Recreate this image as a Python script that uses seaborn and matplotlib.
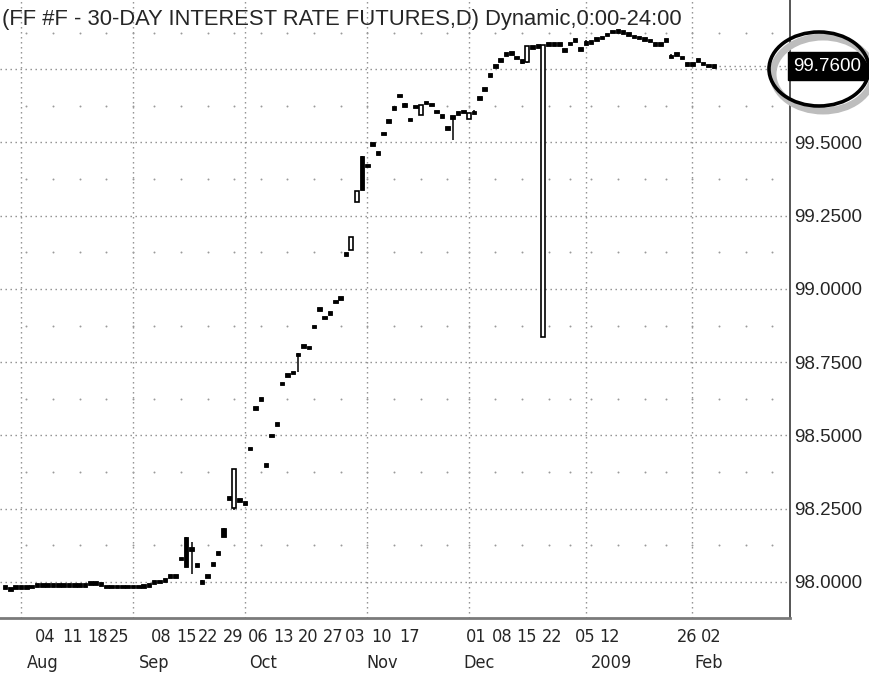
import numpy as np
import pandas as pd
import matplotlib
matplotlib.use("Agg")
import matplotlib.pyplot as plt
from matplotlib.patches import Ellipse
import seaborn as sns

# Cierres diarios (un valor por sesión, 29 jul 2008 - 6 feb 2009)
closes = [
    97.983, 97.976, 97.983, 97.983, 97.983, 97.985, 97.990, 97.990, 97.990, 97.990,
    97.990, 97.990, 97.990, 97.990, 97.990, 97.990, 97.997, 97.997, 97.993, 97.984,
    97.984, 97.984, 97.984, 97.984, 97.984, 97.984, 97.986, 97.990, 98.000, 98.001,
    98.007, 98.020, 98.020, 98.080, 98.050, 98.110, 98.058, 98.000, 98.020, 98.061,
    98.099, 98.154, 98.287, 98.386, 98.280, 98.270, 98.456, 98.593, 98.624, 98.400,
    98.500, 98.539, 98.678, 98.706, 98.714, 98.777, 98.806, 98.800, 98.871, 98.932,
    98.902, 98.918, 98.957, 98.969, 99.119, 99.178, 99.334, 99.338, 99.422, 99.495,
    99.463, 99.531, 99.573, 99.617, 99.660, 99.628, 99.579, 99.622, 99.628, 99.636,
    99.630, 99.605, 99.591, 99.549, 99.586, 99.600, 99.605, 99.600, 99.602, 99.652,
    99.682, 99.730, 99.761, 99.782, 99.801, 99.805, 99.790, 99.778, 99.830, 99.826,
    99.829, 99.832, 99.836, 99.836, 99.836, 99.816, 99.838, 99.850, 99.818, 99.840,
    99.842, 99.853, 99.858, 99.868, 99.878, 99.881, 99.877, 99.870, 99.861, 99.858,
    99.853, 99.848, 99.836, 99.835, 99.850, 99.793, 99.801, 99.789, 99.767, 99.768,
    99.782, 99.770, 99.762, 99.760,
]

# Velas con cuerpo visible: índice y apertura
body_idx = [34, 35, 41, 43, 65, 66, 67, 78, 87, 98, 101]
body_open = [98.155, 98.115, 98.184, 98.253, 99.133, 99.298, 99.452, 99.594, 99.579, 99.775, 98.835]

# Mechas visibles
wick_idx = [1, 35, 37, 43, 55, 66, 75, 84, 88, 97, 98, 109, 125]
wick_low = [97.970, 98.027, 98.000, 98.245, 98.718, 99.295, 99.628, 99.509, 99.602, 99.768, 99.770, 99.840, 99.793]
wick_high = [97.976, 98.137, 98.008, 98.386, 98.782, 99.334, 99.636, 99.586, 99.610, 99.778, 99.830, 99.848, 99.801]

week_labels = ["04", "11", "18", "25", "08", "15", "22", "29", "06", "13", "20", "27",
               "03", "10", "17", "01", "08", "15", "22", "05", "12", "26", "02"]
week_pos = [7.6, 12.6, 17.3, 21.4, 29.3, 34.0, 38.1, 42.8, 47.5, 52.2, 56.9, 61.5,
            65.7, 70.7, 76.0, 88.5, 93.2, 97.9, 102.6, 108.8, 113.5, 128.0, 132.6]
month_labels = ["Aug", "Sep", "Oct", "Nov", "Dec", "2009", "Feb"]
month_pos = [7.0, 28.0, 48.5, 70.8, 89.0, 113.8, 132.0]
month_starts = [3, 24, 45, 68, 87, 109, 129]
week_starts = [4, 9, 14, 19, 24, 28, 33, 38, 43, 48, 53, 58, 63, 68, 73, 78, 83, 87,
               92, 97, 102, 106, 110, 115, 120, 124, 129, 134, 139, 144]
y_ticks = [98.0, 98.25, 98.5, 98.75, 99.0, 99.25, 99.5]
last_price = 99.76

title = "(FF #F - 30-DAY INTEREST RATE FUTURES,D) Dynamic,0:00-24:00"

# Armar tabla OHLC
df = pd.DataFrame({"close": closes})
df["open"] = df["close"]
df.loc[body_idx, "open"] = body_open
df["high"] = df[["open", "close"]].max(axis=1)
df["low"] = df[["open", "close"]].min(axis=1)
df.loc[wick_idx, "low"] = wick_low
df.loc[wick_idx, "high"] = np.maximum(wick_high, df.loc[wick_idx, "high"])
df["x"] = np.arange(len(df))

sns.set_theme(style="white")
plt.rcParams["font.family"] = ["Liberation Sans", "DejaVu Sans"]
narrow = ["DejaVu Sans"]

fig = plt.figure(figsize=(8.7, 6.75), dpi=100)
ax = fig.add_axes([0, 57 / 675, 790 / 870, 618 / 675])
ax.set_facecolor("white")

grid_kw = dict(color="#8a8a8a", linestyle=(0, (1, 2.6)), linewidth=1.0, zorder=1)
for yv in y_ticks + [99.75]:
    ax.axhline(yv, **grid_kw)
for xv in month_starts:
    ax.axvline(xv, **grid_kw)

# puntos menores (semanas x niveles intermedios)
mid_levels = np.arange(98.125, 99.9, 0.25)
gx, gy = np.meshgrid(week_starts, mid_levels)
ax.scatter(gx.ravel(), gy.ravel(), s=2, color="#9a9a9a", zorder=1, linewidths=0)

# mechas
ax.vlines(df["x"], df["low"], df["high"], color="black", linewidth=1.1, zorder=2)

# cuerpos
min_h = 0.012
up = df["close"] > df["open"] + 0.005
bot = df[["open", "close"]].min(axis=1)
hgt = (df["close"] - df["open"]).abs()
flat = hgt < min_h
bot = np.where(flat, (df["open"] + df["close"]) / 2 - min_h / 2, bot)
hgt = np.where(flat, min_h, hgt)
ax.bar(df["x"][~up], hgt[~up], bottom=bot[~up], width=0.85, color="black",
       edgecolor="black", linewidth=0.6, zorder=3)
ax.bar(df["x"][up], hgt[up], bottom=bot[up], width=0.75, color="white",
       edgecolor="black", linewidth=1.2, zorder=3)

# línea del último precio
ax.hlines(last_price, df["x"].iloc[-1], 160, color="#8a8a8a", linestyle=(0, (1, 2.6)),
          linewidth=1.0, zorder=1)

ax.set_xlim(-0.94, 147.3)
ax.set_ylim(97.877, 99.986)

# eje derecho
ax.yaxis.tick_right()
ax.set_yticks(y_ticks)
ax.set_yticklabels([f"{v:.4f}" for v in y_ticks], fontsize=13.5)
ax.tick_params(axis="y", length=0, pad=3)
ax.set_xticks([])
for s in ["left", "top"]:
    ax.spines[s].set_visible(False)
ax.spines["bottom"].set_color("#7a7a7a")
ax.spines["bottom"].set_linewidth(2.0)
ax.spines["right"].set_color("#555555")
ax.spines["right"].set_linewidth(1.4)

# etiquetas de fecha
for lab, p in zip(week_labels, week_pos):
    ax.text(p, -0.031, lab, transform=ax.get_xaxis_transform(), ha="center", va="center",
            fontsize=13, family=narrow, fontstretch="condensed", clip_on=False)
for lab, p in zip(month_labels, month_pos):
    ax.text(p, -0.073, lab, transform=ax.get_xaxis_transform(), ha="center", va="center",
            fontsize=13, family=narrow, fontstretch="condensed", clip_on=False)

# precio actual resaltado
ax.text(1.004, last_price, f"{last_price:.4f}", transform=ax.get_yaxis_transform(),
        ha="left", va="center", fontsize=13.5, color="white", clip_on=False, zorder=6,
        bbox=dict(boxstyle="square,pad=0.3", facecolor="black", edgecolor="black"))

shadow = Ellipse((823 / 870, 1 - 74 / 675), 100 / 870, 74 / 675, transform=fig.transFigure,
                 fill=False, edgecolor="#bdbdbd", linewidth=5, zorder=4)
ring = Ellipse((819 / 870, 1 - 69 / 675), 100 / 870, 74 / 675, transform=fig.transFigure,
               fill=False, edgecolor="black", linewidth=2.6, zorder=7)
fig.patches.extend([shadow, ring])

fig.text(2 / 870, 1 - 19 / 675, title, ha="left", va="center", fontsize=15.8)

fig.savefig("out.png", dpi=100, facecolor="white")
